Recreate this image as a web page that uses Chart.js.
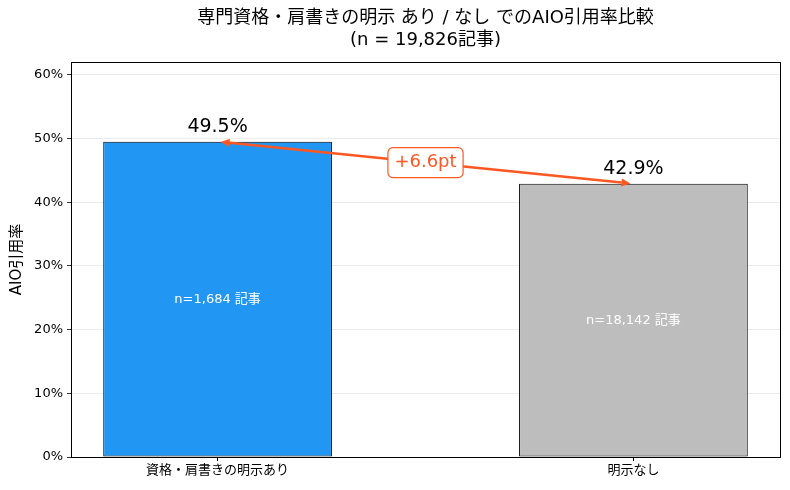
<!DOCTYPE html>
<html>
<head>
<meta charset="utf-8">
<script src="https://cdn.jsdelivr.net/npm/chart.js@4"></script>
<style>
  html, body { margin: 0; padding: 0; background: #fff; }
  #wrap { width: 790px; height: 490px; }
</style>
</head>
<body>
<div id="wrap"><canvas id="myChart" width="790" height="490"></canvas></div>
<script>
var categories = ['資格・肩書きの明示あり', '明示なし']
var rates = [49.5, 42.9]
var counts = ['n=1,684 記事', 'n=18,142 記事']
var barColors = ['#2196F3', '#BDBDBD']
var yTicks = [0, 10, 20, 30, 40, 50, 60]
var diffLabel = '+6.6pt'
var titleLines = ['専門資格・肩書きの明示 あり / なし でのAIO引用率比較', '(n = 19,826記事)']

var FONT = '"DejaVu Sans", "Noto Sans CJK JP", sans-serif'
var ORANGE = '#FF5722'

// title centred over the plot area (not the whole canvas)
var titlePlugin = {
    id: 'plotTitle',
    afterDraw: function (chart) {
        var a = chart.chartArea
        var ctx = chart.ctx
        ctx.save()
        ctx.fillStyle = '#000'
        ctx.font = '18px ' + FONT
        ctx.textAlign = 'center'
        ctx.textBaseline = 'middle'
        var cx = (a.left + a.right) / 2
        titleLines.forEach(function (t, i) {
            ctx.fillText(t, cx, 18 + i * 22)
        })
        ctx.restore()
    }
}

// frame on all four sides, like the original plot
var framePlugin = {
    id: 'frame',
    afterDatasetsDraw: function (chart) {
        var a = chart.chartArea
        var ctx = chart.ctx
        ctx.save()
        ctx.strokeStyle = '#000'
        ctx.lineWidth = 1
        ctx.strokeRect(Math.round(a.left) + 0.5, Math.round(a.top) + 0.5,
            Math.round(a.right - a.left), Math.round(a.bottom - a.top))
        ctx.restore()
    }
}

// value labels, n labels and the difference arrow
var labelsPlugin = {
    id: 'labels',
    afterDatasetsDraw: function (chart) {
        var ctx = chart.ctx
        var xs = chart.scales.x
        var ys = chart.scales.y
        ctx.save()
        ctx.textAlign = 'center'
        for (var i = 0; i < rates.length; i++) {
            var px = xs.getPixelForValue(i)
            ctx.fillStyle = '#000'
            ctx.font = '19px ' + FONT
            ctx.textBaseline = 'alphabetic'
            ctx.fillText(rates[i].toFixed(1) + '%', px, ys.getPixelForValue(rates[i]) - 10)
            ctx.fillStyle = '#fff'
            ctx.font = '13px ' + FONT
            ctx.textBaseline = 'middle'
            ctx.fillText(counts[i], px, ys.getPixelForValue(rates[i] / 2))
        }

        // arrow between the two bar tops
        var x1 = xs.getPixelForValue(0), y1 = ys.getPixelForValue(rates[0])
        var x2 = xs.getPixelForValue(1), y2 = ys.getPixelForValue(rates[1])
        var ang = Math.atan2(y2 - y1, x2 - x1)
        var sh = 3
        x1 += Math.cos(ang) * sh; y1 += Math.sin(ang) * sh
        x2 -= Math.cos(ang) * sh; y2 -= Math.sin(ang) * sh
        var hl = 9, hw = 4
        ctx.strokeStyle = ORANGE
        ctx.fillStyle = ORANGE
        ctx.lineWidth = 2.5
        ctx.beginPath()
        ctx.moveTo(x1 + Math.cos(ang) * hl, y1 + Math.sin(ang) * hl)
        ctx.lineTo(x2 - Math.cos(ang) * hl, y2 - Math.sin(ang) * hl)
        ctx.stroke()
        function head(tx, ty, dir) {
            var bx = tx - Math.cos(dir) * hl, by = ty - Math.sin(dir) * hl
            ctx.beginPath()
            ctx.moveTo(tx, ty)
            ctx.lineTo(bx + Math.sin(dir) * hw, by - Math.cos(dir) * hw)
            ctx.lineTo(bx - Math.sin(dir) * hw, by + Math.cos(dir) * hw)
            ctx.closePath()
            ctx.fill()
        }
        head(x2, y2, ang)
        head(x1, y1, ang + Math.PI)

        // boxed label in the middle
        var mx = xs.getPixelForValue(0.5)
        var my = ys.getPixelForValue((rates[0] + rates[1]) / 2)
        ctx.font = '18px ' + FONT
        var tw = ctx.measureText(diffLabel).width
        var bw = tw + 13, bh = 30
        ctx.beginPath()
        ctx.roundRect(mx - bw / 2, my - bh / 2, bw, bh, 5)
        ctx.fillStyle = '#fff'
        ctx.fill()
        ctx.lineWidth = 1.2
        ctx.strokeStyle = ORANGE
        ctx.stroke()
        ctx.fillStyle = ORANGE
        ctx.textBaseline = 'middle'
        ctx.fillText(diffLabel, mx, my)
        ctx.restore()
    }
}

const data = {
    datasets: [{
        data: rates.map(function (v, i) { return { x: i, y: v } }),
        backgroundColor: barColors,
        borderColor: '#000',
        borderWidth: 1,
        borderSkipped: false,
        categoryPercentage: 1.0,
        barPercentage: 0.55
    }]
}

const config = {
    type: 'bar',
    data: data,
    options: {
        responsive: false,
        animation: false,
        devicePixelRatio: 1,
        layout: { padding: { left: 0, right: 10, top: 62, bottom: 0 } },
        plugins: {
            legend: { display: false },
            tooltip: { enabled: false },
            title: { display: false }
        },
        scales: {
            x: {
                type: 'linear',
                offset: false,
                min: -0.3525,
                max: 1.3525,
                afterBuildTicks: function (scale) {
                    scale.ticks = categories.map(function (c, i) { return { value: i } })
                },
                afterFit: function (scale) { scale.height = 33 },
                ticks: {
                    color: '#000',
                    font: { family: FONT, size: 13 },
                    padding: 2,
                    autoSkip: false,
                    maxRotation: 0,
                    callback: function (v) { return categories[v] }
                },
                grid: { offset: false, drawOnChartArea: false, tickColor: '#000', tickLength: 4 },
                border: { color: '#000' }
            },
            y: {
                min: 0,
                max: 62,
                afterBuildTicks: function (scale) {
                    scale.ticks = yTicks.map(function (v) { return { value: v } })
                },
                afterFit: function (scale) { scale.width = 71 },
                ticks: {
                    color: '#000',
                    font: { family: FONT, size: 13 },
                    padding: 4,
                    callback: function (v) { return v + '%' }
                },
                grid: { color: '#e6e6e6', lineWidth: 0.8, tickColor: '#000', tickLength: 4 },
                border: { color: '#000' },
                title: {
                    display: true,
                    text: 'AIO引用率',
                    color: '#000',
                    font: { family: FONT, size: 15, lineHeight: 1.2 },
                    padding: { top: 8, bottom: 4 }
                }
            }
        }
    },
    plugins: [framePlugin, labelsPlugin, titlePlugin]
}

const myChart = new Chart(document.getElementById('myChart'), config)
</script>
</body>
</html>
